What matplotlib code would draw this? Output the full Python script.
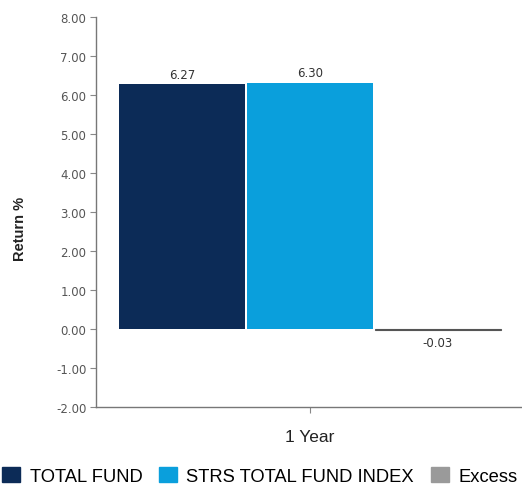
import matplotlib
matplotlib.use("Agg")
import matplotlib.pyplot as plt
from matplotlib.patches import Patch

plt.rcParams['font.family'] = ['Liberation Sans', 'DejaVu Sans']

category = ["1 Year"]
series_names = ["TOTAL FUND", "STRS TOTAL FUND INDEX", "Excess"]
values = [6.27, 6.30, -0.03]
colors = ["#0c2b57", "#0a9fdc", "#9a9a9a"]
yticks = [-2, -1, 0, 1, 2, 3, 4, 5, 6, 7, 8]

fig = plt.figure(figsize=(5.22, 4.85), dpi=100)
ax = fig.add_axes([96/522, (485-408)/485, 428/522, 390/485])

offsets = [-1, 0, 1]
for off, v, c in zip(offsets, values, colors):
    ec = "#555555" if v < 0 and abs(v) < 0.1 else c
    ax.bar(off, v, width=0.99, color=c, edgecolor=ec, linewidth=0.8 if ec != c else 0)
    if v >= 0:
        ax.text(off, v + 0.1, f"{v:.2f}", ha='center', va='bottom', fontsize=8.5,
                color='#333333', family='DejaVu Sans')
    else:
        ax.text(off, v - 0.15, f"{v:.2f}", ha='center', va='top', fontsize=8.5,
                color='#333333', family='DejaVu Sans')

ax.set_xlim(-1.672, 1.672)
ax.set_ylim(-2, 8)
ax.set_yticks(yticks)
ax.set_yticklabels([f"{t:.2f}" for t in yticks], fontsize=8.5, color='#555555', family='DejaVu Sans')
ax.set_xticks([0])
ax.set_xticklabels(category, fontsize=12.5, color='#222222')
ax.tick_params(axis='y', length=4, color='#888888', direction='out', pad=3)
ax.tick_params(axis='x', length=4, color='#888888', direction='out', pad=12)
for s in ['top', 'right']:
    ax.spines[s].set_visible(False)
for s in ['left', 'bottom']:
    ax.spines[s].set_color('#777777')
    ax.spines[s].set_linewidth(1.0)
ax.set_ylabel("Return %", fontsize=10.5, fontweight='bold', color='#222222')
ax.yaxis.set_label_coords(-0.161, 0.46)

handles = [Patch(facecolor=c, edgecolor=c) for c in colors]
fig.legend(handles, series_names, loc='lower left', bbox_to_anchor=(-0.017, -0.024), ncol=3,
           frameon=False, fontsize=13.2, handlelength=1.0, handleheight=0.85,
           handletextpad=0.5, columnspacing=0.9, borderaxespad=0.2)

fig.savefig("out.png", dpi=100)
